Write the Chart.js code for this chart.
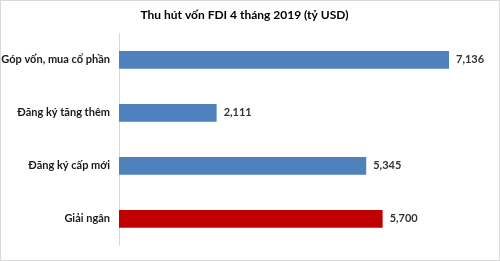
<!DOCTYPE html>
<html>
<head>
<meta charset="utf-8">
<script src="https://cdn.jsdelivr.net/npm/chart.js@4/dist/chart.umd.min.js"></script>
<style>
  html, body { margin: 0; padding: 0; background: #fff; }
  #wrap { width: 500px; height: 261px; position: relative; }
</style>
</head>
<body>
<div id="wrap"><canvas id="myChart" width="500" height="261"></canvas></div>
<script>
var categories = ["Góp vốn, mua cổ phần", "Đăng ký tăng thêm", "Đăng ký cấp mới", "Giải ngân"];
var values = [7.136, 2.111, 5.345, 5.700];
var barColors = ["#4f81bd", "#4f81bd", "#4f81bd", "#c00000"];
var chartTitle = "Thu hút vốn FDI 4 tháng 2019 (tỷ USD)";

// vietnamese style decimal comma
function fmt(v) {
    return v.toFixed(3).replace(".", ",");
}

var valueLabels = {
    id: "valueLabels",
    afterDatasetsDraw: function(chart) {
        var ctx = chart.ctx;
        var meta = chart.getDatasetMeta(0);
        ctx.save();
        ctx.font = "bold 11px Lato";
        ctx.fillStyle = "#333";
        ctx.textBaseline = "middle";
        ctx.textAlign = "left";
        meta.data.forEach(function(bar, i) {
            ctx.fillText(fmt(values[i]), bar.x + 7, bar.y);
        });
        ctx.restore();
    }
};

var frame = {
    id: "frame",
    beforeDraw: function(chart) {
        var ctx = chart.ctx;
        ctx.save();
        ctx.fillStyle = "#fff";
        ctx.fillRect(0, 0, chart.width, chart.height);
        ctx.restore();
    },
    afterDraw: function(chart) {
        var ctx = chart.ctx;
        ctx.save();
        ctx.strokeStyle = "#d9d9d9";
        ctx.lineWidth = 1;
        ctx.strokeRect(0.5, 0.5, chart.width - 1, chart.height - 1);
        ctx.restore();
    }
};

var ctx = document.getElementById("myChart").getContext("2d");
var myChart = new Chart(ctx, {
    type: "bar",
    data: {
        labels: categories,
        datasets: [{
            data: values,
            backgroundColor: barColors,
            borderWidth: 0,
            barPercentage: 0.67,
            categoryPercentage: 0.5
        }]
    },
    options: {
        indexAxis: "y",
        responsive: false,
        animation: false,
        layout: { padding: { left: 0, right: 11, top: 0, bottom: 11 } },
        plugins: {
            legend: { display: false },
            tooltip: { enabled: false },
            title: {
                display: true,
                text: chartTitle,
                color: "#000",
                font: { family: "Lato", size: 12, weight: "bold" },
                padding: { top: 8, bottom: 11 }
            }
        },
        scales: {
            x: {
                display: false,
                min: 0,
                max: 8
            },
            y: {
                afterFit: function(scale) { scale.width = 119; },
                grid: { display: false, drawTicks: false },
                border: { display: true, color: "#d9d9d9", width: 1 },
                ticks: {
                    padding: 9,
                    color: "#1a1a1a",
                    font: { family: "Lato", size: 11, weight: "bold" }
                }
            }
        }
    },
    plugins: [valueLabels, frame]
});
</script>
</body>
</html>
